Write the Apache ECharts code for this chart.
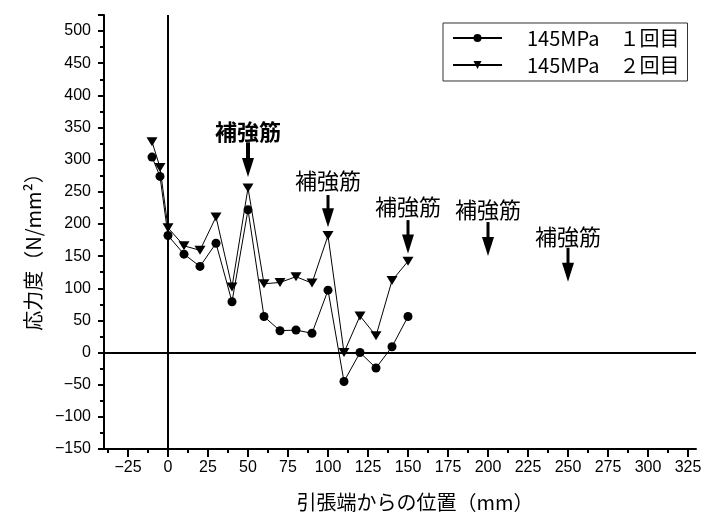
<!DOCTYPE html>
<html>
<head>
<meta charset="utf-8">
<script src="https://cdn.jsdelivr.net/npm/echarts@6/dist/echarts.min.js"></script>
<style>
  html, body { margin: 0; padding: 0; background: #fff; }
  #chart { width: 705px; height: 518px; }
</style>
</head>
<body>
<div id="chart"></div>
<script>
// 測定位置 (mm)
const xPos = [-10, -5, 0, 10, 20, 30, 40, 50, 60, 70, 80, 90, 100, 110, 120, 130, 140, 150];
// 応力度 1回目 / 2回目
const run1 = [304, 274, 182, 153, 134, 170, 79, 222, 56, 34, 35, 30, 97, -45, 0, -24, 9, 56];
const run2 = [328, 288, 194, 166, 159, 211, 102, 256, 107, 109, 118, 108, 182, 0, 57, 26, 112, 142];
const seriesNames = ['145MPa　１回目', '145MPa　２回目'];

// 補強筋の注記 (x位置, 文字の高さ, 矢印の始点, 矢印の先端)
const rebarX = [50, 100, 150, 200, 250];
const rebarTextY = [343, 268, 227, 222, 180];
const arrowTop = [327, 245, 206, 203, 163];
const arrowTip = [273, 195, 154, 150, 110];

const xLabels = [-25, 0, 25, 50, 75, 100, 125, 150, 175, 200, 225, 250, 275, 300, 325];
const xMinor = [-37.5, -12.5, 12.5, 37.5, 62.5, 87.5, 112.5, 137.5, 162.5, 187.5, 212.5, 237.5, 262.5, 287.5, 312.5];

const jp = '"Noto Sans CJK JP", sans-serif';
const num = '"Liberation Sans", Arial, sans-serif';

let chart = echarts.init(document.getElementById('chart'), null, { renderer: 'canvas' });

let pairs = (ys) => xPos.map((x, i) => [x, ys[i]]);
let rebarData = rebarX.map((x, i) => [x, rebarTextY[i], arrowTop[i], arrowTip[i]]);
let minus = (v) => String(v).replace('-', '\u2212');

let option = {
    animation: false,
    backgroundColor: '#fff',
    grid: { left: 104, right: 9, top: 15, bottom: 69 },
    legend: {
        data: seriesNames,
        orient: 'vertical',
        left: 443,
        top: 23,
        padding: [5, 8, 6, 9],
        itemGap: 7,
        itemWidth: 49,
        itemHeight: 10,
        borderColor: '#333',
        borderWidth: 1,
        textStyle: { fontFamily: jp, fontSize: 20, color: '#000', padding: [0, 0, 0, 20] }
    },
    xAxis: [
        {
            type: 'value',
            min: -40,
            max: 330,
            name: '引張端からの位置（mm）',
            nameLocation: 'middle',
            nameGap: 43,
            nameTextStyle: { fontFamily: jp, fontSize: 20, color: '#000', padding: [0, 0, 0, 30] },
            splitLine: { show: false },
            axisLine: { onZero: false, lineStyle: { color: '#000', width: 2 } },
            axisTick: { customValues: xLabels, length: 8, lineStyle: { color: '#000', width: 2 } },
            axisLabel: { customValues: xLabels, formatter: minus, margin: 11, fontFamily: num, fontSize: 16, color: '#000' }
        },
        {
            type: 'value',
            min: -40,
            max: 330,
            position: 'bottom',
            splitLine: { show: false },
            axisLine: { show: false, onZero: false },
            axisTick: { customValues: xMinor, length: 4, lineStyle: { color: '#000', width: 2 } },
            axisLabel: { show: false }
        }
    ],
    yAxis: {
        type: 'value',
        min: -150,
        max: 525,
        interval: 50,
        name: '応力度（N/mm²）',
        nameLocation: 'middle',
        nameGap: 61,
        nameTextStyle: { fontFamily: jp, fontSize: 20, color: '#000', padding: [0, 30, 0, 0] },
        splitLine: { show: false },
        axisLine: { onZero: false, lineStyle: { color: '#000', width: 2 } },
        axisTick: { length: 6, lineStyle: { color: '#000', width: 2 } },
        minorTick: { show: true, splitNumber: 2, length: 4, lineStyle: { color: '#000', width: 2 } },
        axisLabel: { showMaxLabel: false, formatter: minus, margin: 13, fontFamily: num, fontSize: 16, color: '#000' }
    },
    series: [
        {
            name: seriesNames[0],
            type: 'line',
            data: pairs(run1),
            symbol: 'circle',
            symbolSize: 9,
            itemStyle: { color: '#000' },
            lineStyle: { color: '#000', width: 1 },
            z: 3,
            markLine: {
                silent: true,
                symbol: 'none',
                label: { show: false },
                lineStyle: { color: '#000', width: 2, type: 'solid' },
                data: [{ xAxis: 0 }, { yAxis: 0 }]
            }
        },
        {
            name: seriesNames[1],
            type: 'line',
            data: pairs(run2),
            symbol: 'triangle',
            symbolRotate: 180,
            symbolSize: [11, 9],
            itemStyle: { color: '#000' },
            lineStyle: { color: '#000', width: 1 },
            z: 3
        },
        {
            type: 'custom',
            data: rebarData,
            clip: false,
            silent: true,
            renderItem: function (params, api) {
                let t = api.coord([api.value(0), api.value(1)]);
                let a = api.coord([api.value(0), api.value(2)]);
                let b = api.coord([api.value(0), api.value(3)]);
                // 最初の注記だけ太字
                let first = params.dataIndex === 0;
                return {
                    type: 'group',
                    children: [
                        {
                            type: 'text',
                            style: {
                                x: t[0], y: t[1], text: '補強筋',
                                font: (first ? 'bold ' : '') + '22px ' + jp, fill: '#000',
                                align: 'center', verticalAlign: 'middle'
                            }
                        },
                        {
                            type: 'line',
                            shape: { x1: a[0], y1: a[1], x2: b[0], y2: b[1] - 10 },
                            style: { stroke: '#000', lineWidth: first ? 4 : 3 }
                        },
                        {
                            type: 'polygon',
                            shape: { points: [[b[0] - 6, b[1] - 19], [b[0] + 6, b[1] - 19], [b[0], b[1]]] },
                            style: { fill: '#000' }
                        }
                    ]
                };
            }
        }
    ]
};

if (option && typeof option === 'object') {
    chart.setOption(option);
}
window.addEventListener('resize', chart.resize);
</script>
</body>
</html>
